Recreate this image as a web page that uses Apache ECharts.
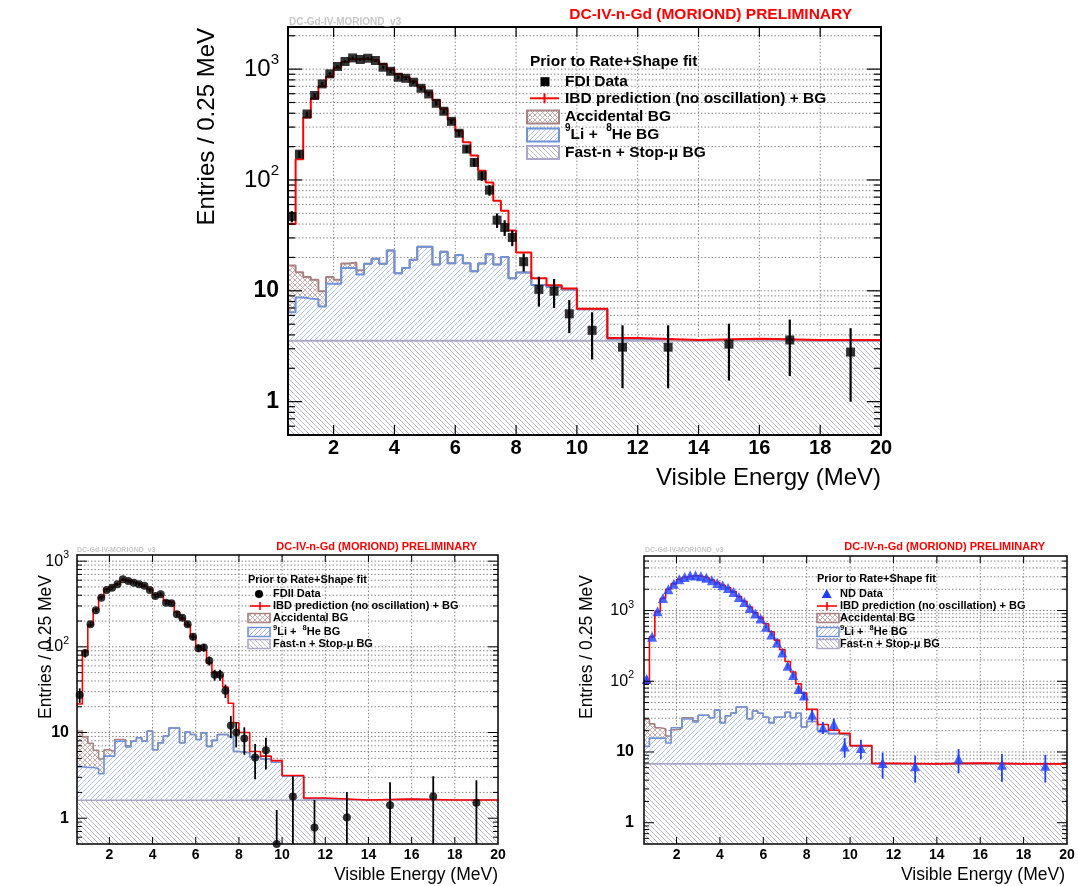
<!DOCTYPE html>
<html>
<head>
<meta charset="utf-8">
<title>DC-IV-n-Gd spectra</title>
<script src="https://cdn.jsdelivr.net/npm/echarts@6.0.0/dist/echarts.min.js"></script>
<style>
html,body{margin:0;padding:0;background:#ffffff;}
#chart{width:1078px;height:886px;}
</style>
</head>
<body>
<div id="chart"></div>
<script>
// ================= DATA =================
// histogram bin edges (MeV)
const binEdges = [0.5,0.75,1,1.25,1.5,1.75,2,2.25,2.5,2.75,3,3.25,3.5,3.75,4,4.25,4.5,4.75,5,5.25,5.5,5.75,6,6.25,6.5,6.75,7,7.25,7.5,7.75,8,8.5,9,9.5,10,11,12,14,16,18,20];
const xTickValues = [2,4,6,8,10,12,14,16,18];

// ---- FDI (top panel) ----
const fdiData = [46.9,171,394,578,736,906,1057,1173,1262,1222,1254,1196,1041,957,845,827,762,672,597,492,417,338,264,190,144,109,81,43.4,37.3,30.3,18.3,10.3,9.9,6.2,4.4,3.1,3.1,3.3,3.6,2.8];
const fdiErr = [5.5,13,20,24,27,30,32,34,35,35,35,35,32,31,29,29,28,26,24,22,20,18,16,14,12,10.5,9,6.5,6,5,3.4,3.1,2.9,2.05,2.0,1.78,1.78,1.75,1.9,1.8];
const fdiPred = [40,154,367,545,700,860,1030,1160,1230,1240,1230,1190,1110,1000,906,845,775,695,615,525,440,352,276,219,166,121,95,65,52.8,35,22.2,13.0,11.2,10.5,6.9,3.75,3.6,3.7,3.6,3.6];
const fdiBgTotal = [16.9,14.7,13.3,12.6,9.9,13.3,12.6,17.6,18.0,15.3,17.5,19.5,17.5,23.1,14.4,16.1,19.1,25.0,25.0,17.3,22.5,17.7,21.0,17.7,15.0,17.6,21.4,17.3,20.2,13.0,14.6,11.3,10.8,10.3,6.8,3.7,3.55,3.68,3.55,3.55];
const fdiBgLi = [6.4,8.7,8.5,8.4,7.2,11.6,11.6,16.1,16.1,14.0,17.5,19.5,17.5,23.1,14.4,16.1,19.1,25.0,25.0,17.3,22.5,17.7,21.0,17.7,15.0,17.6,21.4,17.3,20.2,13.0,14.6,11.3,10.8,10.3,6.8,3.7,3.55,3.68,3.55,3.55];
const fdiFastN = 3.55;
const fdiYMax = 2400;

// ---- FDII (bottom left) ----
const fdiiData = [27.5,84.5,184,268,374,462,489,536,615,585,560,536,516,460,392,410,328,322,240,219,184,131,96.6,98,68.8,47.2,47.2,30.8,12.1,10.0,8.5,5.1,6.2,0.5,1.79,0.78,1.02,1.42,1.79,1.52];
const fdiiErr = [5.3,9.2,13.5,16,19,21,22,23,25,24,23.5,23,22.7,21.5,19.8,20.2,18,18,15.5,14.8,13.5,11.4,9.8,9.9,8.3,6.9,6.9,5.5,3.5,3.3,3.0,2.25,2.5,0.75,1.3,0.85,1.0,1.2,1.3,1.25];
const fdiiPred = [21.5,88,180,275,380,470,505,540,600,590,565,540,510,470,405,400,345,330,255,215,180,130,100,92,65,50,46,34,22,13,10,6.0,5.3,4.7,3.15,1.72,1.63,1.67,1.63,1.63];
const fdiiBgTotal = [10.4,8.9,7.5,6.2,4.9,6.3,6.0,8.3,8.3,7.0,7.9,8.7,7.9,10.4,6.3,7.6,9.1,11.3,11.3,7.6,10.1,9.5,8.3,9.9,6.9,8.1,9.5,9.5,9.0,6.0,5.8,5.2,4.9,4.5,3.1,1.69,1.62,1.66,1.62,1.62];
const fdiiBgLi = [4.0,3.9,3.9,3.8,3.3,5.3,5.3,7.9,7.9,6.8,7.9,8.7,7.9,10.4,6.3,7.6,9.1,11.3,11.3,7.6,10.1,9.5,8.3,9.9,6.9,8.1,9.5,9.5,9.0,6.0,5.8,5.2,4.9,4.5,3.1,1.69,1.62,1.66,1.62,1.62];
const fdiiFastN = 1.62;
const fdiiYMax = 1180;

// ---- ND (bottom right) ----
const ndData = [108,425,977,1504,1995,2400,2760,2975,3140,3140,3040,2915,2670,2450,2270,2080,1827,1555,1322,1088,906,771,588,459,354,256,166,123,78,62.7,33.5,22.2,24.8,12.0,11.4,7.0,6.3,8.0,6.6,6.4];
const ndErr = [10,21,31,39,45,49,53,55,56,56,55,54,52,49,48,46,43,39,36,33,30,28,24,21,19,16,13,11,9,8,6.5,4.3,5,3.7,3.5,2.8,2.6,3.0,2.8,2.7];
const ndPred = [94,425,960,1480,2000,2400,2750,2950,3080,3100,3020,2900,2700,2480,2280,2100,1850,1580,1350,1120,930,800,650,500,382,280,190,135,92,68,40,24.5,20.4,18.3,12.3,6.9,6.8,6.95,6.8,6.8];
const ndBgTotal = [29,25,22,21.3,16.8,20.6,21.5,30.5,30.5,27.5,33,33,30.5,39,26,32.5,35.5,43.2,43.2,29.5,38,35.3,31,26,31,31,36.5,30.5,35.3,22.5,27,20,18.2,17.2,12.2,6.8,6.8,6.9,6.8,6.8];
const ndBgLi = [12.0,15.7,15.7,15.7,13.4,22.0,22.0,29.3,29.3,26.5,33,33,30.5,39,26,32.5,35.5,43.2,43.2,29.5,38,35.3,31,26,31,31,36.5,30.5,35.3,22.5,27,20,18.2,17.2,12.2,6.8,6.8,6.9,6.8,6.8];
const ndFastN = 6.8;
const ndYMax = 5900;

// ================= STYLE / LAYOUT =================
const FONT = "'Liberation Sans', Arial, Helvetica, sans-serif";
const X_MIN = 0.5, X_MAX = 20, Y_MIN = 0.5;
const C_RED = '#ff0000', C_BROWN = '#a88282', C_BLUE = '#6f93d6', C_LAV = '#aaa8c6';

function makeHatch(color, kind, size, lw) {
  const c = document.createElement('canvas');
  c.width = size; c.height = size;
  const g = c.getContext('2d');
  g.fillStyle = '#ffffff'; g.fillRect(0, 0, size, size);
  g.strokeStyle = color; g.lineWidth = lw;
  const s = size;
  const ln = (a, b, cc, d) => { g.beginPath(); g.moveTo(a, b); g.lineTo(cc, d); g.stroke(); };
  if (kind === '/' || kind === 'x') { ln(-1, s + 1, s + 1, -1); ln(-1, 1, 1, -1); ln(s - 1, s + 1, s + 1, s - 1); }
  if (kind === '\\' || kind === 'x') { ln(-1, -1, s + 1, s + 1); ln(s - 1, -1, s + 1, 1); ln(-1, s - 1, 1, s + 1); }
  return { image: c, repeat: 'repeat' };
}
const patBrown = makeHatch('#c2a3a3', 'x', 5, 0.9);
const patBlue = makeHatch('#a9bde6', '/', 5, 0.9);
const patLav = makeHatch('#b3b2ca', '\\', 5, 0.9);

const panels = [
  { name: 'FDI Data', data: fdiData, err: fdiErr, pred: fdiPred, bgTotal: fdiBgTotal, bgLi: fdiBgLi, fastN: fdiFastN, yMax: fdiYMax,
    rect: { left: 288, top: 27, width: 593, height: 408 }, frameW: 2, lw: 2, errW: 2.2,
    marker: 'rect', markerSize: 9, markerColor: '#000',
    tickMajor: 14, tickMinor: 7, xTick: 10, tickW: 1.2,
    xLabelFont: 20, xLabelMargin: 3, yLabelFont: 24, yBoldFont: 23, ySupFont: 15, yLabelMargin: 9,
    tag: [289, 22, 10], title: [852, 15, 15.5], yTitle: [207, 28], xTitle: [881, 478], axisTitleFont: 24,
    leg: { headerX: 530, headerY: 62, rows: [81.7, 98.3, 117, 135, 152.5], boxX: 527, markerX: 545, textX: 565,
           boxW: 32, boxH: 13, lineX1: 530, lineX2: 559, crossH: 5, font: 15.5, supFont: 10, mSize: 9 } },
  { name: 'FDII Data', data: fdiiData, err: fdiiErr, pred: fdiiPred, bgTotal: fdiiBgTotal, bgLi: fdiiBgLi, fastN: fdiiFastN, yMax: fdiiYMax,
    rect: { left: 77, top: 555, width: 421, height: 289 }, frameW: 1.5, lw: 1.6, errW: 1.8,
    marker: 'circle', markerSize: 8, markerColor: '#000',
    tickMajor: 10, tickMinor: 5, xTick: 7, tickW: 1,
    xLabelFont: 14, xLabelMargin: 4, yLabelFont: 16, yBoldFont: 16, ySupFont: 10.5, yLabelMargin: 8,
    tag: [77, 550, 7], title: [477, 547, 11], yTitle: [46, 575], xTitle: [498, 875], axisTitleFont: 17.5,
    leg: { headerX: 248, headerY: 580, rows: [594, 606, 618, 632, 644], boxX: 248, markerX: 259, textX: 273,
           boxW: 22, boxH: 9, lineX1: 250, lineX2: 270, crossH: 4, font: 11, supFont: 7.5, mSize: 8 } },
  { name: 'ND Data', data: ndData, err: ndErr, pred: ndPred, bgTotal: ndBgTotal, bgLi: ndBgLi, fastN: ndFastN, yMax: ndYMax,
    rect: { left: 644, top: 556, width: 423, height: 288 }, frameW: 1.5, lw: 1.6, errW: 1.8,
    marker: 'triangle', markerSize: 10, markerColor: '#1f40ff',
    tickMajor: 10, tickMinor: 5, xTick: 7, tickW: 1,
    xLabelFont: 14, xLabelMargin: 4, yLabelFont: 16, yBoldFont: 16, ySupFont: 10.5, yLabelMargin: 10,
    tag: [645, 550, 7], title: [1045, 547, 11], yTitle: [587, 575], xTitle: [1065, 875], axisTitleFont: 17.5,
    leg: { headerX: 817, headerY: 579, rows: [594, 606, 618, 632, 644], boxX: 817, markerX: 826.7, textX: 840,
           boxW: 22, boxH: 9, lineX1: 817, lineX2: 837, crossH: 4, font: 11, supFont: 7.5, mSize: 10 } }
];

const binCenters = binEdges.slice(0, -1).map((e, j) => (e + binEdges[j + 1]) / 2);
function stepData(vals) {
  const d = vals.map((v, j) => [binEdges[j], v]);
  d.push([binEdges[binEdges.length - 1], vals[vals.length - 1]]);
  return d;
}
function yGridValues(yMax) {
  const out = [];
  for (let k = -1; k <= 4; k++) for (let m = 1; m <= 9; m++) {
    const v = +(m * Math.pow(10, k)).toPrecision(6);
    if (v > Y_MIN && v < yMax) out.push([v, m === 1 ? 1 : 0]);
  }
  return out;
}
function logLabel(v) {
  const l = Math.log10(v), r = Math.round(l);
  if (Math.abs(l - r) > 1e-6) return '';
  if (r === 0) return '{b|1}';
  if (r === 1) return '{b|10}';
  return '{n|10}{s|' + r + '}';
}

const series = [];
panels.forEach((p, i) => {
  const yg = yGridValues(p.yMax);
  // dotted grid
  series.push({
    type: 'custom', xAxisIndex: i, yAxisIndex: i, z: 1, silent: true,
    data: yg.map(g => [X_MIN, g[0], 0]).concat(xTickValues.map(x => [x, Y_MIN, 1])),
    encode: { x: 0, y: 1 },
    renderItem: (params, api) => {
      let a, b;
      if (api.value(2) === 0) { a = api.coord([X_MIN, api.value(1)]); b = api.coord([X_MAX, api.value(1)]); }
      else { a = api.coord([api.value(0), Y_MIN]); b = api.coord([api.value(0), p.yMax]); }
      return { type: 'line', shape: { x1: a[0], y1: a[1], x2: b[0], y2: b[1] },
               style: { stroke: '#8a8a8a', lineWidth: 1, lineDash: [1.5, 2] } };
    }
  });
  // Accidental (top of BG stack)
  series.push({ type: 'line', xAxisIndex: i, yAxisIndex: i, step: 'end', symbol: 'none', silent: true, z: 2,
    data: stepData(p.bgTotal), lineStyle: { color: C_BROWN, width: p.lw },
    areaStyle: { color: patBrown, opacity: 1, origin: Y_MIN } });
  // 9Li + 8He (cumulative with fast-n)
  series.push({ type: 'line', xAxisIndex: i, yAxisIndex: i, step: 'end', symbol: 'none', silent: true, z: 2,
    data: stepData(p.bgLi), lineStyle: { color: C_BLUE, width: p.lw },
    areaStyle: { color: patBlue, opacity: 1, origin: Y_MIN } });
  // Fast-n + stop-mu
  series.push({ type: 'line', xAxisIndex: i, yAxisIndex: i, symbol: 'none', silent: true, z: 2,
    data: [[X_MIN, p.fastN], [X_MAX, p.fastN]], lineStyle: { color: C_LAV, width: p.lw },
    areaStyle: { color: patLav, opacity: 1, origin: Y_MIN } });
  // prediction
  series.push({ type: 'line', xAxisIndex: i, yAxisIndex: i, step: 'end', symbol: 'none', silent: true, z: 3,
    data: stepData(p.pred), lineStyle: { color: C_RED, width: p.lw } });
  // error bars
  series.push({
    type: 'custom', xAxisIndex: i, yAxisIndex: i, z: 4, silent: true,
    data: binCenters.map((c, j) => [c, p.data[j], p.err[j]]),
    encode: { x: 0, y: 1 },
    renderItem: (params, api) => {
      const x = api.value(0), v = api.value(1), e = api.value(2);
      const a = api.coord([x, Math.max(v - e, Y_MIN)]), b = api.coord([x, v + e]);
      return { type: 'line', shape: { x1: a[0], y1: a[1], x2: b[0], y2: b[1] },
               style: { stroke: p.markerColor, lineWidth: p.errW } };
    }
  });
  // data markers
  series.push({ type: 'scatter', xAxisIndex: i, yAxisIndex: i, z: 5, silent: true,
    symbol: p.marker, symbolSize: p.markerSize, itemStyle: { color: p.markerColor },
    data: binCenters.map((c, j) => [c, p.data[j]]) });
  // axis ticks on all four sides
  series.push({
    type: 'custom', xAxisIndex: i, yAxisIndex: i, z: 6, silent: true,
    data: yg.map(g => [X_MIN, g[0], 0, g[1]]).concat(xTickValues.map(x => [x, Y_MIN, 1, 1])),
    encode: { x: 0, y: 1 },
    renderItem: (params, api) => {
      const st = { stroke: '#000', lineWidth: p.tickW };
      if (api.value(2) === 0) {
        const len = api.value(3) ? p.tickMajor : p.tickMinor;
        const a = api.coord([X_MIN, api.value(1)]), b = api.coord([X_MAX, api.value(1)]);
        return { type: 'group', children: [
          { type: 'line', shape: { x1: a[0], y1: a[1], x2: a[0] + len, y2: a[1] }, style: st },
          { type: 'line', shape: { x1: b[0] - len, y1: b[1], x2: b[0], y2: b[1] }, style: st } ] };
      }
      const a = api.coord([api.value(0), Y_MIN]), b = api.coord([api.value(0), p.yMax]);
      return { type: 'group', children: [
        { type: 'line', shape: { x1: a[0], y1: a[1], x2: a[0], y2: a[1] - p.xTick }, style: st },
        { type: 'line', shape: { x1: b[0], y1: b[1], x2: b[0], y2: b[1] + p.xTick }, style: st } ] };
    }
  });
});

// ---- texts & legends (graphic) ----
const graphics = [];
function txt(x, y, text, font, opts) {
  return Object.assign({ type: 'text', x: x, y: y, z: 100, silent: true,
    style: Object.assign({ text: text, font: font, fill: '#000', align: 'left', verticalAlign: 'middle',
                           textAlign: 'left', textVerticalAlign: 'middle' }, (opts && opts.style) || {}) },
    (opts && opts.el) || {});
}
panels.forEach((p, i) => {
  graphics.push(txt(p.tag[0], p.tag[1], 'DC-Gd-IV-MORIOND_v3', 'bold ' + p.tag[2] + 'px ' + FONT, { style: { fill: '#c8c8c8' } }));
  graphics.push(txt(p.title[0], p.title[1], 'DC-IV-n-Gd (MORIOND) PRELIMINARY', 'bold ' + p.title[2] + 'px ' + FONT,
    { style: { fill: '#ff0000', align: 'right', textAlign: 'right' } }));
  graphics.push(txt(p.yTitle[0], p.yTitle[1], 'Entries / 0.25 MeV', p.axisTitleFont + 'px ' + FONT,
    { style: { align: 'right', textAlign: 'right' }, el: { rotation: Math.PI / 2 } }));
  graphics.push(txt(p.xTitle[0], p.xTitle[1], 'Visible Energy (MeV)', p.axisTitleFont + 'px ' + FONT,
    { style: { align: 'right', textAlign: 'right' } }));

  const L = p.leg, F = 'bold ' + L.font + 'px ' + FONT, R = L.rows;
  graphics.push(txt(L.headerX, L.headerY, 'Prior to Rate+Shape fit', F));
  // data marker
  const mx = L.markerX, my = R[0], ms = L.mSize / 2;
  if (p.marker === 'rect') graphics.push({ type: 'rect', z: 100, silent: true, shape: { x: mx - ms, y: my - ms, width: 2 * ms, height: 2 * ms }, style: { fill: p.markerColor } });
  else if (p.marker === 'circle') graphics.push({ type: 'circle', z: 100, silent: true, shape: { cx: mx, cy: my, r: ms }, style: { fill: p.markerColor } });
  else graphics.push({ type: 'polygon', z: 100, silent: true, shape: { points: [[mx, my - ms], [mx - ms, my + ms * 0.8], [mx + ms, my + ms * 0.8]] }, style: { fill: p.markerColor } });
  graphics.push(txt(L.textX, R[0], p.name, F));
  // prediction
  graphics.push({ type: 'line', z: 100, silent: true, shape: { x1: L.lineX1, y1: R[1], x2: L.lineX2, y2: R[1] }, style: { stroke: C_RED, lineWidth: p.lw } });
  const cx = (L.lineX1 + L.lineX2) / 2;
  graphics.push({ type: 'line', z: 100, silent: true, shape: { x1: cx, y1: R[1] - L.crossH, x2: cx, y2: R[1] + L.crossH }, style: { stroke: C_RED, lineWidth: p.lw } });
  graphics.push(txt(L.textX - (i === 0 ? 0 : 0), R[1], 'IBD prediction (no oscillation) + BG', F));
  // boxes
  const boxes = [[patBrown, C_BROWN, 'Accidental BG'], [patBlue, C_BLUE, '{s|9}Li +  {s|8}He BG'], [patLav, C_LAV, 'Fast-n + Stop-\u03bc BG']];
  boxes.forEach((b, k) => {
    const y = R[2 + k];
    graphics.push({ type: 'rect', z: 100, silent: true, shape: { x: L.boxX, y: y - L.boxH / 2, width: L.boxW, height: L.boxH },
      style: { fill: b[0], stroke: b[1], lineWidth: p.lw } });
    const opts = { style: { lineHeight: L.font * 1.5, rich: { s: { font: 'bold ' + L.supFont + 'px ' + FONT, verticalAlign: 'top', lineHeight: L.supFont + 1 } } } };
    graphics.push(txt(L.boxX + (L.textX - L.boxX), y, b[2], F, opts));
  });
});

const option = {
  animation: false,
  backgroundColor: '#ffffff',
  textStyle: { fontFamily: FONT },
  grid: panels.map(p => ({ left: p.rect.left, top: p.rect.top, width: p.rect.width, height: p.rect.height,
    show: true, borderColor: '#000', borderWidth: p.frameW, backgroundColor: 'transparent', z: 10 })),
  xAxis: panels.map((p, i) => ({
    type: 'value', gridIndex: i, min: X_MIN, max: X_MAX, splitNumber: 10, minInterval: 2, maxInterval: 2,
    axisLine: { show: false }, axisTick: { show: false }, splitLine: { show: false },
    axisLabel: { color: '#000', fontSize: p.xLabelFont, fontWeight: 'bold', fontFamily: FONT, margin: p.xLabelMargin,
      formatter: v => (Math.abs(v - Math.round(v)) < 1e-9 && Math.round(v) % 2 === 0) ? String(Math.round(v)) : '' }
  })),
  yAxis: panels.map((p, i) => ({
    type: 'log', logBase: 10, gridIndex: i, min: Y_MIN, max: p.yMax,
    axisLine: { show: false }, axisTick: { show: false }, splitLine: { show: false }, minorTick: { show: false },
    axisLabel: { color: '#000', margin: p.yLabelMargin, formatter: logLabel,
      rich: {
        n: { fontSize: p.yLabelFont, fontFamily: FONT, color: '#000', lineHeight: p.yLabelFont * 1.4 },
        b: { fontSize: p.yBoldFont, fontWeight: 'bold', fontFamily: FONT, color: '#000', lineHeight: p.yLabelFont * 1.4 },
        s: { fontSize: p.ySupFont, fontFamily: FONT, color: '#000', verticalAlign: 'top', lineHeight: p.ySupFont + 2 }
      } }
  })),
  series: series,
  graphic: { elements: graphics }
};

const chart = echarts.init(document.getElementById('chart'), null, { renderer: 'canvas', width: 1078, height: 886 });
chart.setOption(option);
</script>
</body>
</html>
